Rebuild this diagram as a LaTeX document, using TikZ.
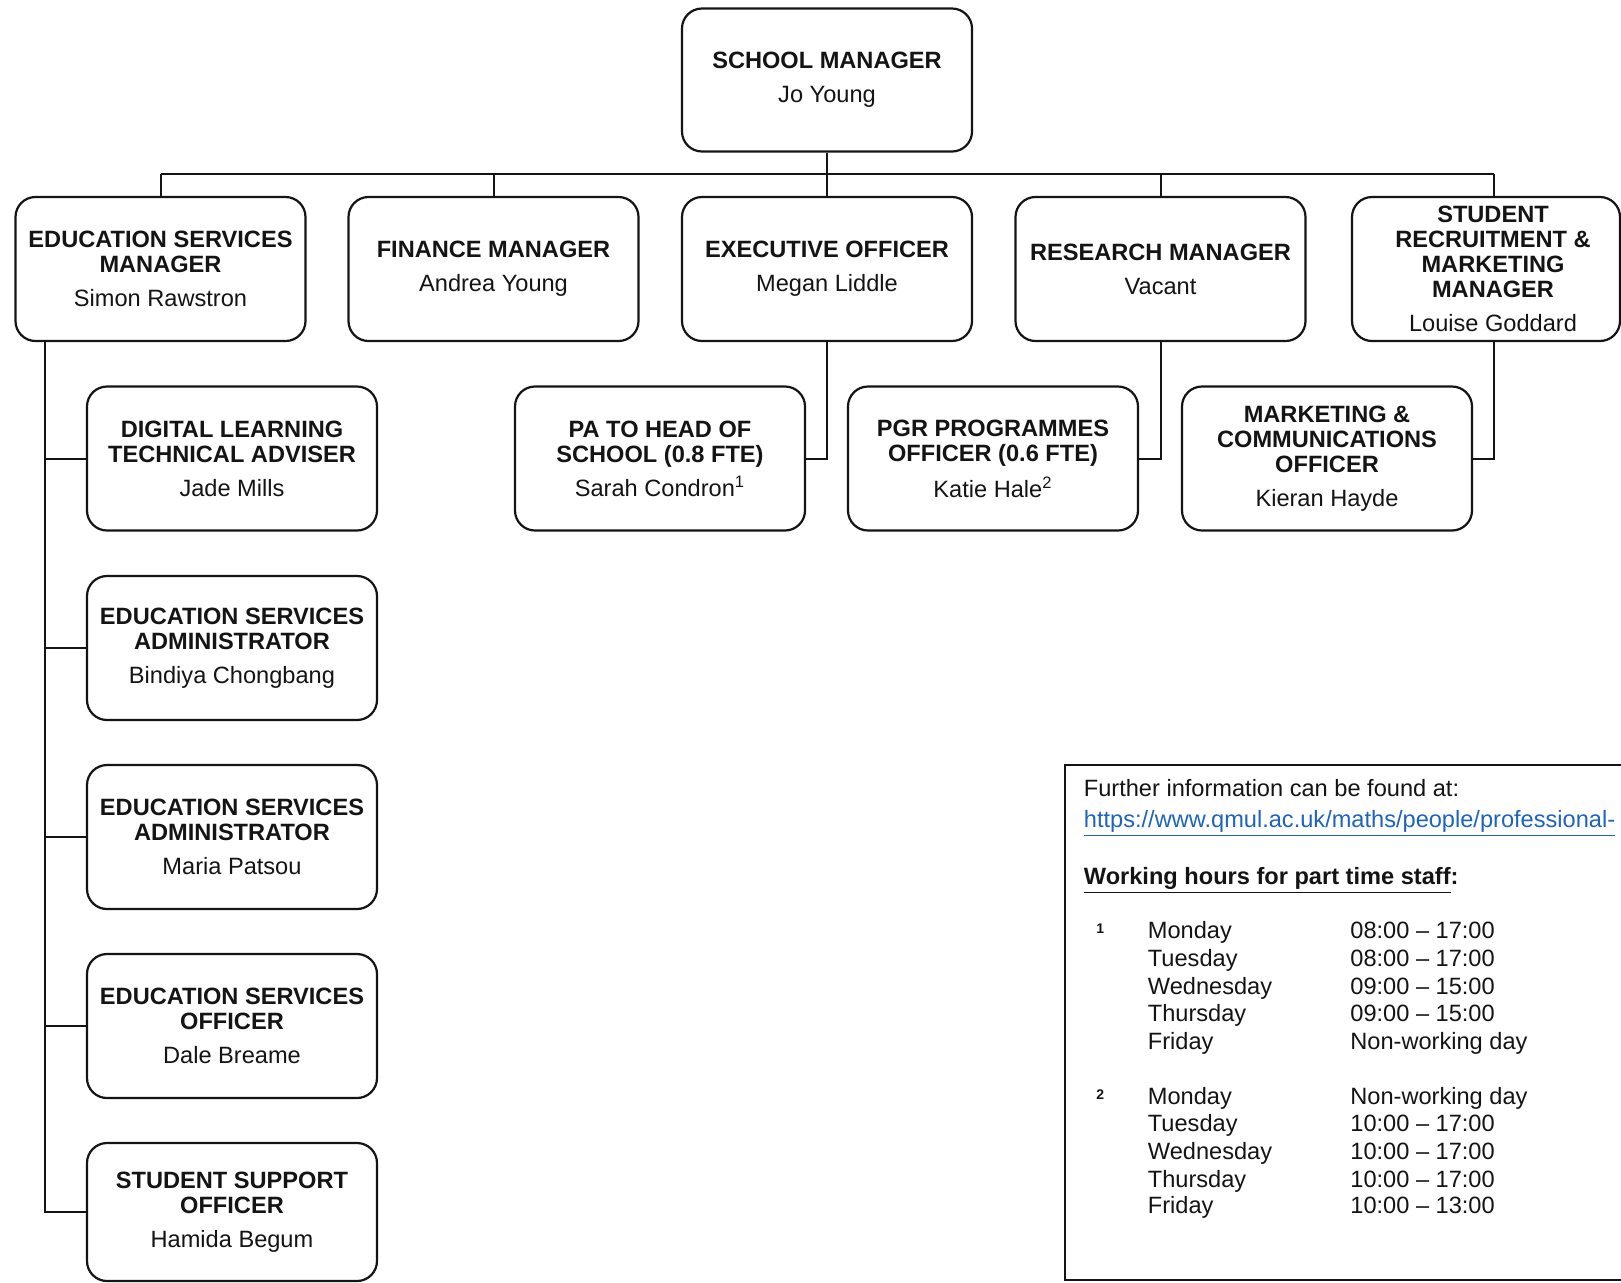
\documentclass[tikz,border=0pt]{standalone}
\usepackage{fontspec}
\setmainfont{Liberation Sans}
\definecolor{linkblue}{RGB}{30,100,190}
\definecolor{ink}{RGB}{20,20,20}
\newcommand{\boxfont}{\fontsize{11.8}{12.5}\selectfont}
\newcommand{\tl}[1]{\textbf{#1}}
\tikzset{
  box/.style={draw=ink, line width=1.1pt, rounded corners=10pt, minimum width=145pt,
    minimum height=72pt, align=center, inner sep=2pt, font=\boxfont, text=ink},
  conn/.style={draw=ink, line width=1pt},
  info/.style={anchor=mid west, inner sep=0pt, font=\boxfont, text=ink},
  fnmark/.style={anchor=mid west, inner sep=0pt, font=\fontsize{7}{8}\selectfont\bfseries, text=ink}
}
\begin{document}
\begin{tikzpicture}[x=0.5pt,y=-0.5pt]
\useasboundingbox (0,0) rectangle (1621,1282);
\clip (0,0) rectangle (1621,1282);
\fill[white] (0,0) rectangle (1621,1282);

% top
\node[box, minimum height=71.5pt] (sm) at (827,80) {\tl{SCHOOL MANAGER}\\[4.5pt]Jo Young};

% row 2
\node[box] (esm) at (160.5,269) {\tl{EDUCATION SERVICES}\\\tl{MANAGER}\\[4.5pt]Simon Rawstron};
\node[box] (fin) at (493.5,269) {\tl{FINANCE MANAGER}\\[4.5pt]Andrea Young};
\node[box] (exe) at (827,269) {\tl{EXECUTIVE OFFICER}\\[4.5pt]Megan Liddle};
\node[box] (res) at (1160.5,269) {\tl{RESEARCH MANAGER}\\[4.5pt]Vacant};
\node[box, minimum width=134pt] (stu) at (1486,269) {};
\node[align=center, inner sep=0pt, font=\boxfont, text=ink] (stut) at (1493,269) {\tl{STUDENT}\\\tl{RECRUITMENT \&}\\\tl{MARKETING}\\\tl{MANAGER}\\[4.5pt]Louise Goddard};

% row 3
\node[box] (pa) at (660,458.5) {\tl{PA TO HEAD OF}\\\tl{SCHOOL (0.8 FTE)}\\[4.5pt]Sarah Condron\textsuperscript{1}};
\node[box] (pgr) at (993,458.5) {\tl{PGR PROGRAMMES}\\\tl{OFFICER (0.6 FTE)}\\[4.5pt]Katie Hale\textsuperscript{2}};
\node[box] (mkt) at (1327,458.5) {\tl{MARKETING \&}\\\tl{COMMUNICATIONS}\\\tl{OFFICER}\\[4.5pt]Kieran Hayde};

% left column
\node[box] (dl) at (232,458.5) {\tl{DIGITAL LEARNING}\\\tl{TECHNICAL ADVISER}\\[4.5pt]Jade Mills};
\node[box] (esa1) at (232,648) {\tl{EDUCATION SERVICES}\\\tl{ADMINISTRATOR}\\[4.5pt]Bindiya Chongbang};
\node[box] (esa2) at (232,837) {\tl{EDUCATION SERVICES}\\\tl{ADMINISTRATOR}\\[4.5pt]Maria Patsou};
\node[box] (eso) at (232,1026) {\tl{EDUCATION SERVICES}\\\tl{OFFICER}\\[4.5pt]Dale Breame};
\node[box, minimum height=69pt] (sso) at (232,1212) {\tl{STUDENT SUPPORT}\\\tl{OFFICER}\\[4.5pt]Hamida Begum};

% connectors
\coordinate (busL) at (160.5,174);
\coordinate (busR) at (1494,174);
\coordinate (vx) at (44.5,341);
\draw[conn] (busL) -- (busR);
\draw[conn] (sm.south) -- (sm.south |- busL);
\draw[conn] (esm.north) -- (esm.north |- busL);
\draw[conn] (fin.north) -- (fin.north |- busL);
\draw[conn] (exe.north) -- (exe.north |- busL);
\draw[conn] (res.north) -- (res.north |- busL);
\draw[conn] (busR) -- (busR |- stu.north);
\draw[conn] (exe.south) |- (pa.east);
\draw[conn] (res.south) |- (pgr.east);
\draw[conn] (busR |- stu.south) |- (mkt.east);
\draw[conn] (vx |- esm.south) -- (vx |- sso.west) -- (sso.west);
\draw[conn] (vx |- dl.west) -- (dl.west);
\draw[conn] (vx |- esa1.west) -- (esa1.west);
\draw[conn] (vx |- esa2.west) -- (esa2.west);
\draw[conn] (vx |- eso.west) -- (eso.west);

% info box
\draw[draw=ink, line width=0.9pt] (1065,765) rectangle (1660,1280);
\node[info] (i1) at (1083.5,791) {Further information can be found at:};
\node[info, text=linkblue] (i2) at (1083.5,822) {\underline{https://www.qmul.ac.uk/maths/people/professional-}};
\node[info] (i3) at (1083.5,879) {\underline{\textbf{Working hours for part time staff}}\textbf{:}};

\node[fnmark] (m1) at (1096,928) {1};
\node[info] (d1) at (1147.5,933.5) {Monday};
\node[info] (d2) at (1147.5,961) {Tuesday};
\node[info] (d3) at (1147.5,989) {Wednesday};
\node[info] (d4) at (1147.5,1016) {Thursday};
\node[info] (d5) at (1147.5,1044) {Friday};
\node[info] (t1) at (1350,933.5) {08:00 -- 17:00};
\node[info] (t2) at (1350,961) {08:00 -- 17:00};
\node[info] (t3) at (1350,989) {09:00 -- 15:00};
\node[info] (t4) at (1350,1016) {09:00 -- 15:00};
\node[info] (t5) at (1350,1044) {Non-working day};

\node[fnmark] (m2) at (1096,1094) {2};
\node[info] (e1) at (1147.5,1099) {Monday};
\node[info] (e2) at (1147.5,1126) {Tuesday};
\node[info] (e3) at (1147.5,1154) {Wednesday};
\node[info] (e4) at (1147.5,1182) {Thursday};
\node[info] (e5) at (1147.5,1208.5) {Friday};
\node[info] (u1) at (1350,1099) {Non-working day};
\node[info] (u2) at (1350,1126) {10:00 -- 17:00};
\node[info] (u3) at (1350,1154) {10:00 -- 17:00};
\node[info] (u4) at (1350,1182) {10:00 -- 17:00};
\node[info] (u5) at (1350,1208.5) {10:00 -- 13:00};
\end{tikzpicture}
\end{document}
